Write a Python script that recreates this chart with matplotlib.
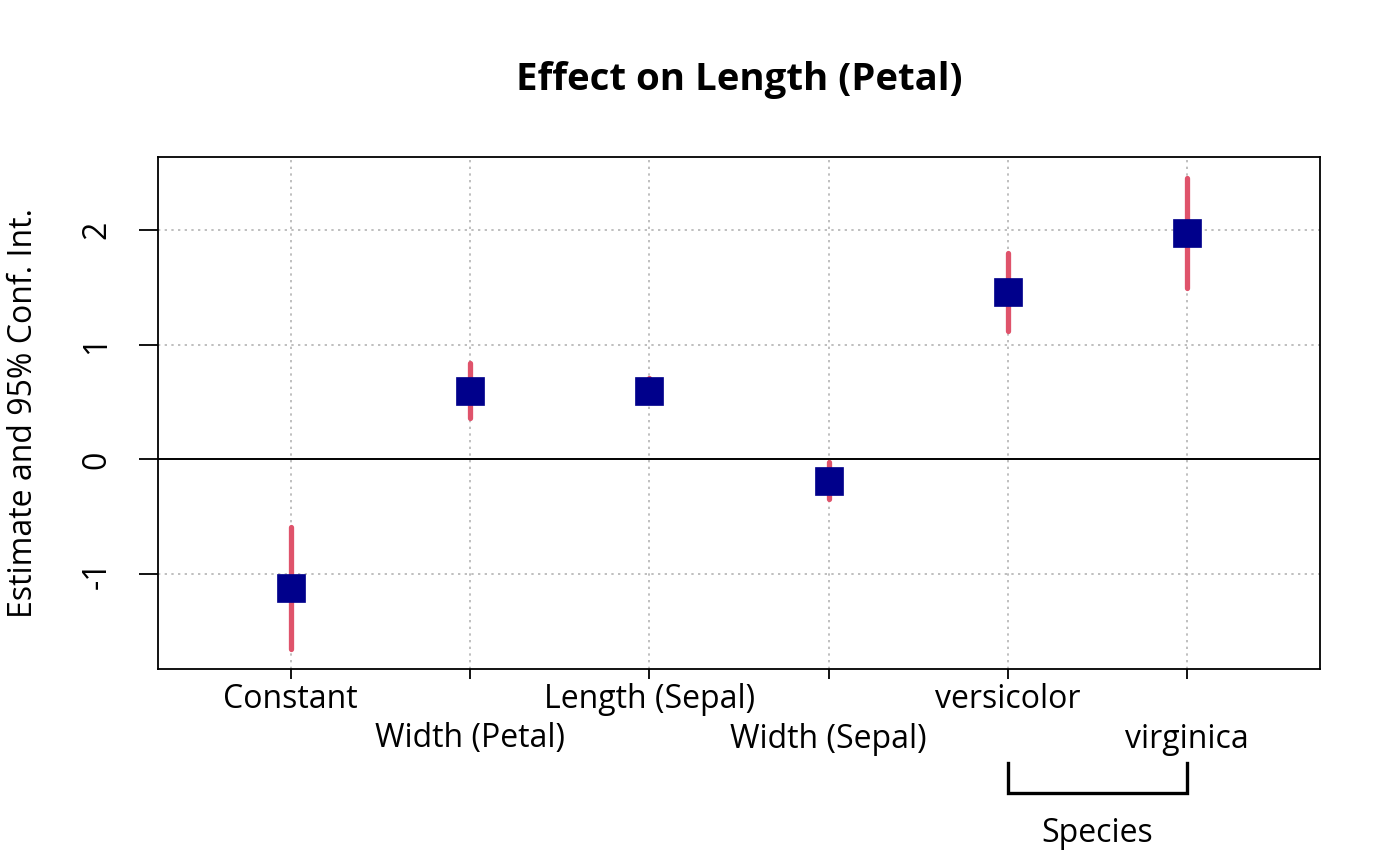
import matplotlib
matplotlib.use("Agg")
import matplotlib.pyplot as plt
import matplotlib.transforms as mtransforms

plt.rcParams['font.family'] = ['Open Sans', 'Noto Sans', 'DejaVu Sans']

# coefficient estimates and 95% intervals
terms = ["Constant", "Width (Petal)", "Length (Sepal)", "Width (Sepal)", "versicolor", "virginica"]
estimate = [-1.12, 0.60, 0.60, -0.19, 1.46, 1.97]
ci_low = [-1.65, 0.36, 0.51, -0.34, 1.12, 1.49]
ci_high = [-0.59, 0.84, 0.71, -0.02, 1.80, 2.45]
y_ticks = [-1, 0, 1, 2]
group_name = "Species"
group_members = [5, 6]

W, H = 1400, 866
FS = 23
fig = plt.figure(figsize=(W / 100, H / 100), dpi=100)
ax = fig.add_axes([158 / W, 1 - 669 / H, (1320 - 158) / W, (669 - 157) / H])

xs = list(range(1, len(terms) + 1))
ax.set_xlim(0.26, 6.74)
ax.set_ylim(-1.825, 2.635)

# grid
for yv in y_ticks:
    if yv != 0:
        ax.axhline(yv, color="#b4b4b4", lw=1.2, ls=(0, (1.4, 2.6)), zorder=1)
for xv in xs:
    ax.axvline(xv, color="#b4b4b4", lw=1.2, ls=(0, (1.4, 2.6)), zorder=1)
ax.axhline(0, color="black", lw=1.4, zorder=2)

# intervals and points
ax.vlines(xs, ci_low, ci_high, color="#DF536B", lw=3.8, capstyle="round", zorder=3)
ax.plot(xs, estimate, ls="none", marker="s", ms=20.3, mfc="#00008B", mec="#00008B", mew=0.5, zorder=4)

for sp in ax.spines.values():
    sp.set_linewidth(1.3)

ax.set_yticks(y_ticks)
ax.set_yticklabels([str(v) for v in y_ticks], rotation=90, va="center", fontsize=FS)
ax.tick_params(axis="y", length=14, width=1.3, pad=18)
ax.set_xticks(xs)
ax.set_xticklabels([])
ax.tick_params(axis="x", length=7, width=1.3)

# x labels in two staggered rows
tr = mtransforms.blended_transform_factory(ax.transData, fig.transFigure)
for i, (xv, name) in enumerate(zip(xs, terms)):
    ypix = 700 if i % 2 == 0 else 739
    ax.text(xv, 1 - ypix / H, name, transform=tr, ha="center", va="center", fontsize=FS)

# group bracket
x0, x1 = group_members[0], group_members[1]
ax.plot([x0, x0, x1, x1], [1 - 763 / H, 1 - 793 / H, 1 - 793 / H, 1 - 763 / H],
        transform=tr, color="black", lw=2.4, clip_on=False, solid_joinstyle="miter")
ax.text((x0 + x1) / 2, 1 - 834 / H, group_name, transform=tr, ha="center", va="center", fontsize=FS)

fig.text(24 / W, 1 - 413 / H, "Estimate and 95% Conf. Int.", rotation=90,
         ha="center", va="center", fontsize=FS)
fig.text(739 / W, 1 - 80 / H, "Effect on Length (Petal)", ha="center", va="center",
         fontsize=FS * 1.2, fontweight="bold")

fig.savefig("out.png", dpi=100)
